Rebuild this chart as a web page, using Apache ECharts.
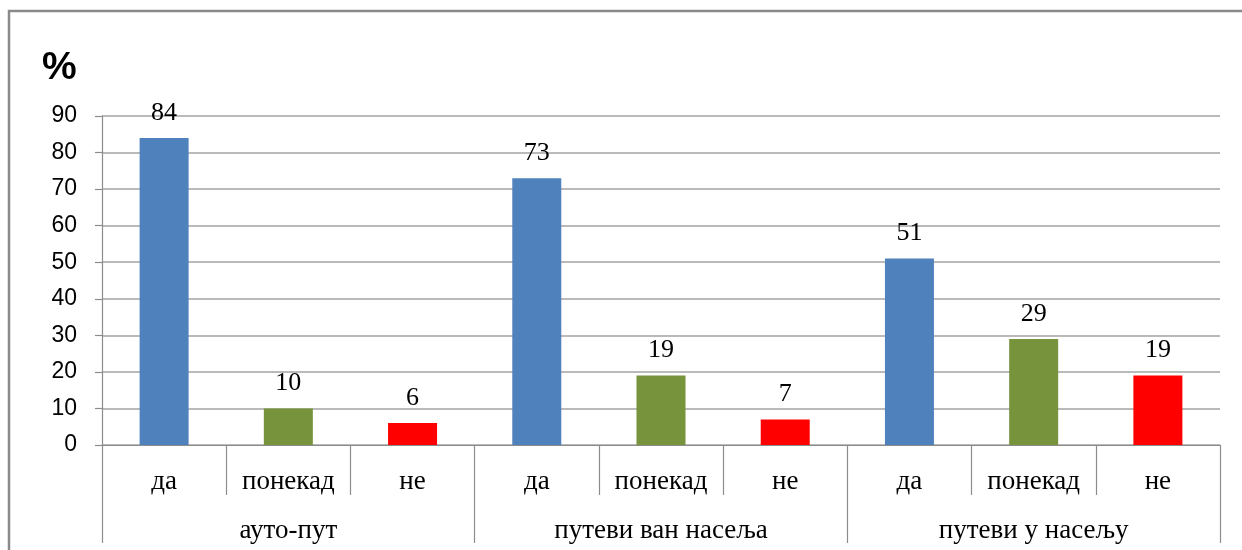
<!DOCTYPE html>
<html>
<head>
<meta charset="utf-8">
<script src="https://cdn.jsdelivr.net/npm/echarts@6/dist/echarts.min.js"></script>
<style>
    html, body { margin: 0; padding: 0; background: #fff; }
    #chart { width: 1242px; height: 550px; }
</style>
</head>
<body>
<div id="chart"></div>
<script>
// odgovori po grupama puteva
var ANSWERS = ['да', 'понекад', 'не'];
var GROUPS = ['ауто-пут', 'путеви ван насеља', 'путеви у насељу'];
var VALUES = [84, 10, 6, 73, 19, 7, 51, 29, 19];
var ANSWER_COLORS = ['#4F81BD', '#77933C', '#FF0000'];
var Y_TICKS = [0, 10, 20, 30, 40, 50, 60, 70, 80, 90];

var categories = [];
var barData = [];
for (var i = 0, len = VALUES.length; i < len; i++) {
    categories.push(ANSWERS[i % ANSWERS.length]);
    barData.push({
        value: VALUES[i],
        itemStyle: { color: ANSWER_COLORS[i % ANSWERS.length] }
    });
}

var chart = echarts.init(document.getElementById('chart'));
var axisGray = '#8c8c8c';
var serif = '"Liberation Serif", "DejaVu Serif", serif';

chart.setOption({
    animation: false,
    title: {
        text: '%',
        left: 37,
        top: 44,
        textStyle: { fontFamily: '"Liberation Sans", Arial, sans-serif', fontSize: 39, fontWeight: 'bold', color: '#000' }
    },
    graphic: [{
        type: 'rect',
        shape: { x: 9, y: 11, width: 1400, height: 700 },
        style: { fill: 'none', stroke: '#8a8a8a', lineWidth: 2.5 },
        silent: true
    }],
    grid: { left: 102, right: 22, top: 116, bottom: 105, containLabel: false },
    xAxis: [{
        type: 'category',
        data: categories,
        position: 'bottom',
        axisLine: { lineStyle: { color: axisGray, width: 1.2 } },
        axisTick: { show: true, interval: 0, length: 50, lineStyle: { color: axisGray, width: 1.2 } },
        axisLabel: { interval: 0, margin: 23, fontFamily: serif, fontSize: 27, color: '#000' }
    }, {
        type: 'category',
        data: GROUPS,
        position: 'bottom',
        offset: 50,
        axisLine: { show: false },
        axisTick: { show: true, interval: 0, length: 48, lineStyle: { color: axisGray, width: 1.2 } },
        axisLabel: { interval: 0, margin: 22, fontFamily: serif, fontSize: 27, color: '#000' }
    }],
    yAxis: {
        type: 'value',
        min: Y_TICKS[0],
        max: Y_TICKS[Y_TICKS.length - 1],
        interval: 10,
        axisLine: { show: true, lineStyle: { color: axisGray, width: 1.2 } },
        axisTick: { show: true, length: 7, lineStyle: { color: axisGray, width: 1.2 } },
        splitLine: { show: true, lineStyle: { color: '#a3a3a3', width: 1.6 } },
        axisLabel: { margin: 25, fontFamily: '"Liberation Sans", Arial, sans-serif', fontSize: 23, color: '#000' }
    },
    series: [{
        type: 'bar',
        xAxisIndex: 0,
        data: barData,
        barWidth: 49,
        label: {
            show: true,
            position: 'top',
            distance: 12,
            fontFamily: serif,
            fontSize: 26,
            color: '#000'
        }
    }]
});
</script>
</body>
</html>
